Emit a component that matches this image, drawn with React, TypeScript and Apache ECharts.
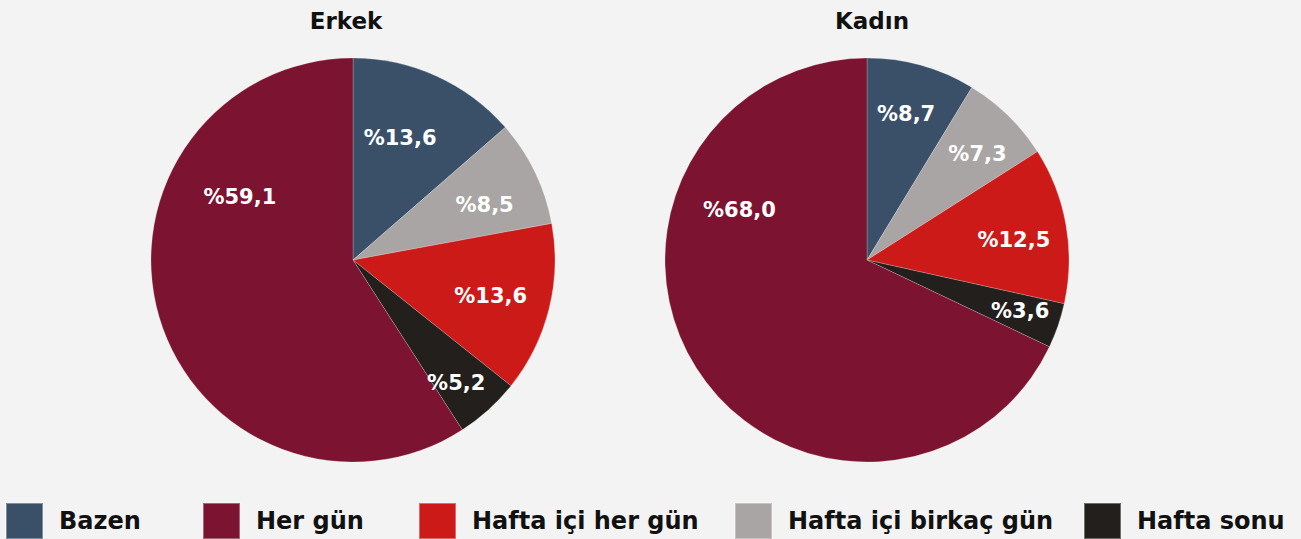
import React, { useEffect, useRef } from "react";
import * as echarts from "echarts";

const categories = ["Bazen", "Hafta içi birkaç gün", "Hafta içi her gün", "Hafta sonu", "Her gün"];
const legendOrder = ["Bazen", "Her gün", "Hafta içi her gün", "Hafta içi birkaç gün", "Hafta sonu"];
const erkekValues = [13.6, 8.5, 13.6, 5.2, 59.1];
const kadinValues = [8.7, 7.3, 12.5, 3.6, 68.0];
const titles = ["Erkek", "Kadın"];

const colors: Record<string, string> = {
  "Bazen": "#3a5069",
  "Hafta içi birkaç gün": "#a8a5a4",
  "Hafta içi her gün": "#cc1a18",
  "Hafta sonu": "#231f1d",
  "Her gün": "#7b1331",
};

// label nudges (layout only)
const labelOffsets = [
  [[-13, 10], [1, 8], [-3, 1], [6, 15], [26, -104]],
  [[0, -6], [9, -2], [4, 5], [16, 4], [-5, -127]],
];

const FONT = "DejaVu Sans";

export default function App() {
  const ref = useRef<HTMLDivElement>(null);
  useEffect(() => {
    document.body.style.margin = "0";
    const chart = echarts.init(ref.current!, null, { renderer: "svg" });
    const centers = [[353, 260], [867, 260]];
    const dataSets = [erkekValues, kadinValues];
    const fmt = (v: number) => "%" + v.toFixed(1).replace(".", ",");
    const series: any[] = [];
    dataSets.forEach((vals, i) => {
      const data = categories.map((c, k) => ({ name: c, value: vals[k], itemStyle: { color: colors[c] } }));
      series.push({
        type: "pie",
        center: centers[i],
        radius: [0, 202],
        startAngle: 90,
        clockwise: true,
        silent: true,
        label: { show: false },
        labelLine: { show: false },
        itemStyle: { borderColor: "rgba(255,255,255,0.35)", borderWidth: 0.6 },
        data,
      });
      series.push({
        type: "pie",
        center: centers[i],
        radius: [0, 284],
        startAngle: 90,
        clockwise: true,
        silent: true,
        itemStyle: { color: "rgba(0,0,0,0)" },
        label: {
          show: true,
          position: "inside",
          color: "#ffffff",
          fontFamily: FONT,
          fontWeight: "bold",
          fontSize: 21,
          formatter: (p: any) => fmt(p.value),
        },
        labelLine: { show: false },
        data: categories.map((c, k) => ({
          name: c,
          value: vals[k],
          itemStyle: { color: "rgba(0,0,0,0)" },
          label: { offset: labelOffsets[i][k] },
        })),
      });
    });
    const legendLefts = [5, 202, 418, 734, 1083];
    const legends = legendOrder.map((name, i) => ({
      show: true,
      left: legendLefts[i],
      top: 502,
      padding: 0,
      orient: "horizontal",
      icon: "rect",
      itemWidth: 37,
      itemHeight: 36,
      selectedMode: false,
      data: [name],
      textStyle: {
        fontFamily: FONT,
        fontWeight: "bold",
        fontSize: 24,
        color: "#111111",
        padding: [0, 0, 0, 11],
      },
    }));
    chart.setOption({
      animation: false,
      backgroundColor: "#f3f3f3",
      title: titles.map((t, i) => ({
        text: t,
        left: i === 0 ? 341 : 867,
        top: 4,
        textAlign: "center",
        textStyle: { fontFamily: FONT, fontWeight: "bold", fontSize: 23, color: "#111111" },
      })),
      legend: legends,
      series,
    });
    return () => chart.dispose();
  }, []);
  return <div ref={ref} style={{ width: 1301, height: 539 }} />;
}
